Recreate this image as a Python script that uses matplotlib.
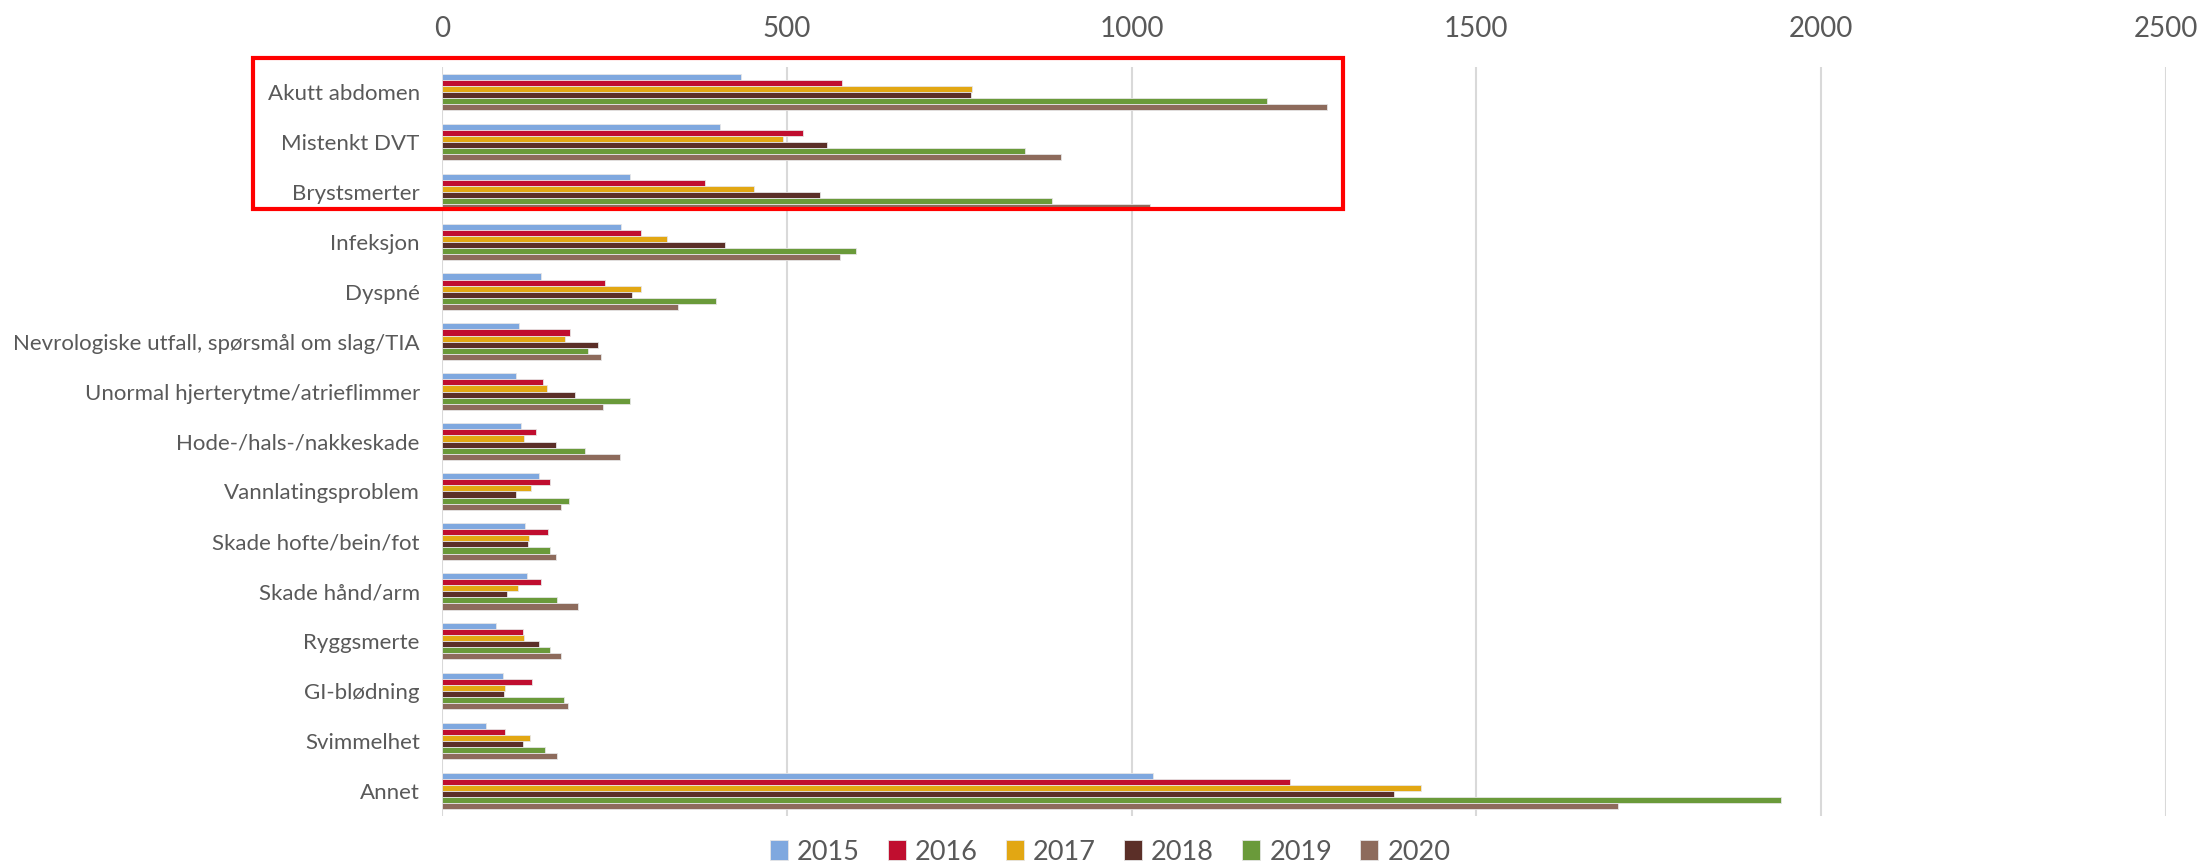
import matplotlib
matplotlib.use("Agg")
from matplotlib import pyplot as plt
from matplotlib.patches import Rectangle
import numpy as np

plt.rcParams['font.family'] = ['Lato', 'DejaVu Sans']

categories = [
    "Akutt abdomen",
    "Mistenkt DVT",
    "Brystsmerter",
    "Infeksjon",
    "Dyspné",
    "Nevrologiske utfall, spørsmål om slag/TIA",
    "Unormal hjerterytme/atrieflimmer",
    "Hode-/hals-/nakkeskade",
    "Vannlatingsproblem",
    "Skade hofte/bein/fot",
    "Skade hånd/arm",
    "Ryggsmerte",
    "GI-blødning",
    "Svimmelhet",
    "Annet",
]

years = ["2015", "2016", "2017", "2018", "2019", "2020"]

v2015 = [434, 403, 272, 260, 143, 111, 107, 115, 140, 121, 123, 78, 88, 64, 1031]
v2016 = [580, 524, 382, 289, 237, 185, 147, 136, 157, 153, 143, 118, 130, 92, 1229]
v2017 = [769, 494, 452, 327, 288, 179, 152, 119, 129, 126, 110, 119, 91, 127, 1419]
v2018 = [767, 559, 548, 410, 276, 226, 193, 166, 108, 125, 94, 140, 90, 117, 1381]
v2019 = [1197, 846, 884, 601, 398, 211, 272, 207, 184, 157, 167, 157, 177, 149, 1942]
v2020 = [1283, 898, 1026, 577, 342, 231, 234, 258, 173, 166, 197, 172, 182, 167, 1705]

colors = ["#7FA8DF", "#C00E2F", "#E2A713", "#5B2F28", "#6A9A3A", "#8D6B5C"]

series = [v2015, v2016, v2017, v2018, v2019, v2020]

fig = plt.figure(figsize=(22.03, 8.67), dpi=100)
ax = fig.add_axes([442 / 2203, 1 - 816 / 867, (2166 - 442) / 2203, (816 - 67) / 867])

n = len(series)
bh = 1 / 1.37 / n
y = np.arange(len(categories))
for i, (vals, col, yr) in enumerate(zip(series, colors, years)):
    off = (i - (n - 1) / 2) * bh
    ax.barh(y + off, vals, height=bh, color=col, edgecolor="#e6e6e6",
            linewidth=0.6, label=yr, zorder=3)

ax.set_ylim(len(categories) - 0.5, -0.5)
ax.set_xlim(0, 2500)
ax.set_xticks(np.arange(0, 2501, 500))
ax.xaxis.tick_top()
ax.tick_params(axis="x", length=0, pad=18, labelsize=20, labelcolor="#595959")
ax.set_yticks(y)
ax.set_yticklabels(categories)
ax.tick_params(axis="y", length=0, pad=16, labelsize=16, labelcolor="#595959")
ax.grid(axis="x", color="#d9d9d9", linewidth=1.5, zorder=0)
for s in ax.spines.values():
    s.set_visible(False)

# box around the three top categories
box = Rectangle((-274, -0.69), 1306 + 274, 2.34 + 0.69, transform=ax.transData,
                fill=False, edgecolor="#ff0000", linewidth=3, clip_on=False, zorder=5)
ax.add_patch(box)

fig.legend(loc="center", bbox_to_anchor=(1110 / 2203, 1 - 852 / 867), ncol=6,
           frameon=False, fontsize=19.5, labelcolor="#595959",
           handlelength=0.67, handleheight=0.75, handletextpad=0.33, columnspacing=1.04)

plt.savefig("out.png", dpi=100)
